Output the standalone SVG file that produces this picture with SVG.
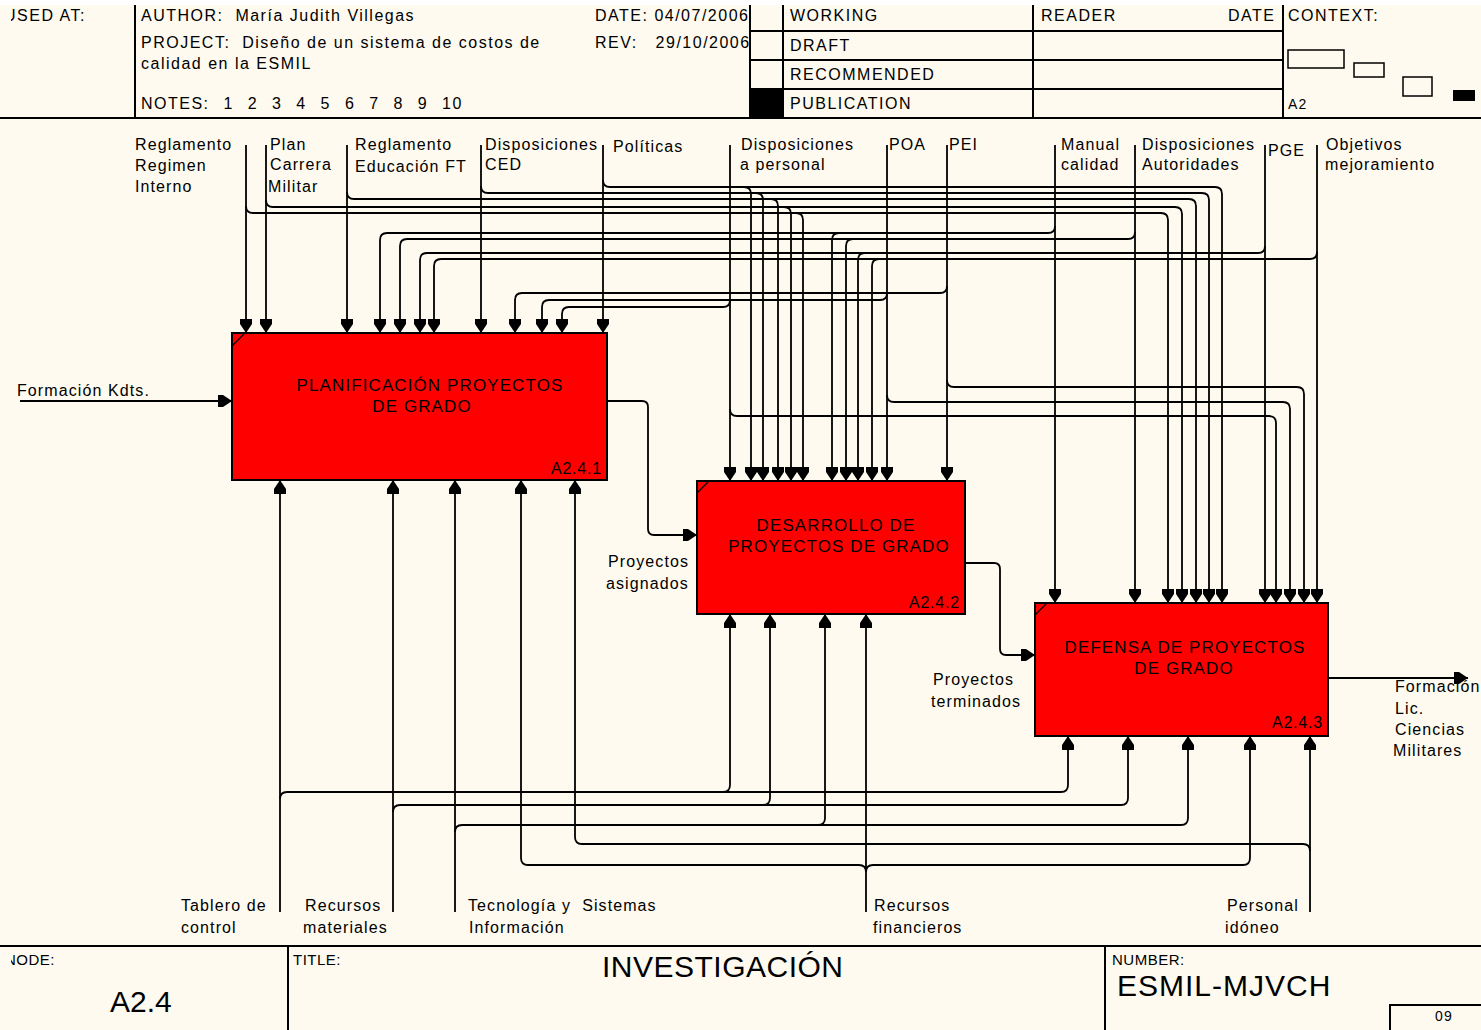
<svg xmlns="http://www.w3.org/2000/svg" width="1481" height="1030" viewBox="0 0 1481 1030">
<style>
.t{font-family:"Liberation Sans",Arial,sans-serif;font-size:16px;letter-spacing:1.1px;fill:#000}
.h{font-family:"Liberation Sans",Arial,sans-serif;font-size:16px;letter-spacing:1.5px;fill:#000}
.bt{font-family:"Liberation Sans",Arial,sans-serif;font-size:17px;letter-spacing:1.1px;fill:#000;text-anchor:middle}
.bn{font-family:"Liberation Sans",Arial,sans-serif;font-size:16px;letter-spacing:0.8px;fill:#000;text-anchor:end}
.big{font-family:"Liberation Sans",Arial,sans-serif;font-size:30px;fill:#000}
.fr{stroke:#000;stroke-width:2;fill:none}
.box{fill:#ff0000;stroke:#000;stroke-width:2}
.c{fill:none;stroke:#000;stroke-width:1.8}
.a{marker-end:url(#ah)}
</style>
<defs>
<marker id="ah" viewBox="0 0 14 12" refX="14" refY="6" markerWidth="14" markerHeight="12" orient="auto" markerUnits="userSpaceOnUse"><path d="M0,0 L5,0 L14,6 L5,12 L0,12 z" fill="#000"/></marker>
<clipPath id="lc"><rect x="11" y="0" width="1470" height="1030"/></clipPath>
</defs>
<rect x="0" y="0" width="1481" height="1030" fill="#fefaef"/>
<rect x="0" y="0" width="1481" height="5" fill="#ffffff"/>
<g id="frame">
<line class="fr" x1="0" y1="118" x2="1481" y2="118"/>
<line class="fr" x1="135" y1="5" x2="135" y2="118"/>
<line class="fr" x1="750" y1="5" x2="750" y2="118"/>
<line class="fr" x1="783" y1="5" x2="783" y2="118"/>
<line class="fr" x1="1033" y1="5" x2="1033" y2="118"/>
<line class="fr" x1="1283" y1="5" x2="1283" y2="118"/>
<line class="fr" x1="750" y1="31" x2="1283" y2="31"/>
<line class="fr" x1="750" y1="60" x2="1283" y2="60"/>
<line class="fr" x1="750" y1="89" x2="1283" y2="89"/>
<rect x="750" y="89" width="33" height="29" fill="#000"/>
<text class="h" x="4" y="21" clip-path="url(#lc)">USED AT:</text>
<text class="h" x="141" y="21" xml:space="preserve">AUTHOR:  María Judith Villegas</text>
<text class="h" x="595" y="21">DATE: 04/07/2006</text>
<text class="h" x="141" y="48" xml:space="preserve">PROJECT:  Diseño de un sistema de costos de</text>
<text class="h" x="141" y="69">calidad en la ESMIL</text>
<text class="h" x="595" y="48" xml:space="preserve">REV:   29/10/2006</text>
<text class="h" x="141" y="109" xml:space="preserve" style="word-spacing:1px">NOTES:  1  2  3  4  5  6  7  8  9  10</text>
<text class="h" x="790" y="21">WORKING</text>
<text class="h" x="790" y="51">DRAFT</text>
<text class="h" x="790" y="80">RECOMMENDED</text>
<text class="h" x="790" y="109">PUBLICATION</text>
<text class="h" x="1041" y="21">READER</text>
<text class="h" x="1228" y="21">DATE</text>
<text class="h" x="1288" y="21">CONTEXT:</text>
<text class="t" x="1288" y="109" style="font-size:14px">A2</text>
<rect x="1288" y="50" width="56" height="18" fill="none" stroke="#000" stroke-width="1.5"/>
<rect x="1354" y="63" width="30" height="14" fill="none" stroke="#000" stroke-width="1.5"/>
<rect x="1403" y="77" width="29" height="19" fill="none" stroke="#000" stroke-width="1.5"/>
<rect x="1453" y="90" width="22" height="11" fill="#000"/>
<line class="fr" x1="0" y1="946" x2="1481" y2="946"/>
<line class="fr" x1="288" y1="946" x2="288" y2="1030"/>
<line class="fr" x1="1105" y1="946" x2="1105" y2="1030"/>
<polyline class="fr" points="1390,1030 1390,1005 1481,1005"/>
<text class="t" x="5" y="965" clip-path="url(#lc)" style="font-size:15px;letter-spacing:0.5px">NODE:</text>
<text class="big" x="110" y="1012">A2.4</text>
<text class="t" x="293" y="965" style="font-size:15px;letter-spacing:0.5px">TITLE:</text>
<text class="big" x="602" y="977" style="letter-spacing:0.5px">INVESTIGACIÓN</text>
<text class="t" x="1112" y="965" style="font-size:15px;letter-spacing:0.5px">NUMBER:</text>
<text class="big" x="1117" y="996" style="letter-spacing:1px">ESMIL-MJVCH</text>
<text class="t" x="1435" y="1021" style="font-size:14px">09</text>
</g>
<g id="node-a241">
<rect class="box" x="232" y="333" width="375" height="147"/>
<line x1="232" y1="346" x2="245" y2="333" stroke="#000" stroke-width="1.2"/>
<text class="bt" x="430" y="391">PLANIFICACIÓN PROYECTOS</text>
<text class="bt" x="422" y="412">DE GRADO</text>
<text class="bn" x="602" y="474">A2.4.1</text>
</g>
<g id="node-a242">
<rect class="box" x="697" y="481" width="268" height="133"/>
<line x1="697" y1="493" x2="709" y2="481" stroke="#000" stroke-width="1.2"/>
<text class="bt" x="836" y="531">DESARROLLO DE</text>
<text class="bt" x="839" y="552">PROYECTOS DE GRADO</text>
<text class="bn" x="960" y="608">A2.4.2</text>
</g>
<g id="node-a243">
<rect class="box" x="1035" y="603" width="293" height="133"/>
<line x1="1035" y1="615" x2="1047" y2="603" stroke="#000" stroke-width="1.2"/>
<text class="bt" x="1185" y="653">DEFENSA DE PROYECTOS</text>
<text class="bt" x="1184" y="674">DE GRADO</text>
<text class="bn" x="1323" y="728">A2.4.3</text>
</g>
<g id="connectors">
<path class="c a" d="M246,145 V333"/>
<path class="c a" d="M266,145 V333"/>
<path class="c a" d="M347,145 V333"/>
<path class="c a" d="M481,145 V333"/>
<path class="c a" d="M603,145 V333"/>
<path class="c a" d="M730,145 V481"/>
<path class="c a" d="M887,145 V481"/>
<path class="c a" d="M947,145 V481"/>
<path class="c a" d="M1055,145 V603"/>
<path class="c a" d="M1135,145 V603"/>
<path class="c a" d="M1265,145 V603"/>
<path class="c a" d="M1317,145 V603"/>
<path class="c a" d="M246,206 Q246,213 253,213 H1161 Q1168,213 1168,220 V603"/>
<path class="c a" d="M796,213 Q803,213 803,220 V481"/>
<path class="c a" d="M266,200 Q266,207 273,207 H1175 Q1182,207 1182,214 V603"/>
<path class="c a" d="M784,207 Q791,207 791,214 V481"/>
<path class="c a" d="M347,192 Q347,199 354,199 H1189 Q1196,199 1196,206 V603"/>
<path class="c a" d="M771,199 Q778,199 778,206 V481"/>
<path class="c a" d="M481,186 Q481,193 488,193 H1202 Q1209,193 1209,200 V603"/>
<path class="c a" d="M756,193 Q763,193 763,200 V481"/>
<path class="c a" d="M603,180 Q603,187 610,187 H1215 Q1222,187 1222,194 V603"/>
<path class="c a" d="M744,187 Q751,187 751,194 V481"/>
<path class="c a" d="M1055,226 Q1055,233 1048,233 H387 Q380,233 380,240 V333"/>
<path class="c a" d="M839,233 Q832,233 832,240 V481"/>
<path class="c a" d="M1135,232 Q1135,239 1128,239 H407 Q400,239 400,246 V333"/>
<path class="c a" d="M853,239 Q846,239 846,246 V481"/>
<path class="c a" d="M1265,246 Q1265,253 1258,253 H427 Q420,253 420,260 V333"/>
<path class="c a" d="M865,253 Q858,253 858,260 V481"/>
<path class="c a" d="M1317,252 Q1317,259 1310,259 H441 Q434,259 434,266 V333"/>
<path class="c a" d="M879,259 Q872,259 872,266 V481"/>
<path class="c a" d="M947,286 Q947,293 940,293 H522 Q515,293 515,300 V333"/>
<path class="c a" d="M887,293 Q887,300 880,300 H549 Q542,300 542,307 V333"/>
<path class="c a" d="M730,300 Q730,307 723,307 H569 Q562,307 562,314 V333"/>
<path class="c a" d="M947,380 Q947,387 954,387 H1297 Q1304,387 1304,394 V603"/>
<path class="c a" d="M887,395 Q887,402 894,402 H1283 Q1290,402 1290,409 V603"/>
<path class="c a" d="M730,409 Q730,416 737,416 H1269 Q1276,416 1276,423 V603"/>
<path class="c a" d="M280,912 V480"/>
<path class="c a" d="M280,799 Q280,792 287,792 H1061 Q1068,792 1068,785 V736"/>
<path class="c a" d="M723,792 Q730,792 730,785 V614"/>
<path class="c a" d="M393,912 V480"/>
<path class="c a" d="M393,812 Q393,805 400,805 H1121 Q1128,805 1128,798 V736"/>
<path class="c a" d="M763,805 Q770,805 770,798 V614"/>
<path class="c a" d="M455,912 V480"/>
<path class="c a" d="M455,832 Q455,825 462,825 H1181 Q1188,825 1188,818 V736"/>
<path class="c a" d="M818,825 Q825,825 825,818 V614"/>
<path class="c a" d="M866,912 V614"/>
<path class="c a" d="M866,872 Q866,865 859,865 H528 Q521,865 521,858 V480"/>
<path class="c a" d="M866,872 Q866,865 873,865 H1243 Q1250,865 1250,858 V736"/>
<path class="c a" d="M1310,912 V736"/>
<path class="c a" d="M1310,851 Q1310,844 1303,844 H582 Q575,844 575,837 V480"/>
<path class="c a" d="M20,401 H232"/>
<path class="c a" d="M607,401 H642 Q648,401 648,407 V529 Q648,535 654,535 H697"/>
<path class="c a" d="M965,563 H994 Q1000,563 1000,569 V649 Q1000,655 1006,655 H1035"/>
<path class="c a" d="M1328,678 H1468"/>
</g>
<g id="labels">
<text class="t" x="135" y="150">Reglamento</text>
<text class="t" x="135" y="171">Regimen</text>
<text class="t" x="135" y="192">Interno</text>
<text class="t" x="270" y="150">Plan</text>
<text class="t" x="270" y="170">Carrera</text>
<text class="t" x="268" y="192">Militar</text>
<text class="t" x="355" y="150">Reglamento</text>
<text class="t" x="355" y="172">Educación FT</text>
<text class="t" x="485" y="150">Disposiciones</text>
<text class="t" x="485" y="170">CED</text>
<text class="t" x="613" y="152">Políticas</text>
<text class="t" x="741" y="150">Disposiciones</text>
<text class="t" x="740" y="170">a personal</text>
<text class="t" x="889" y="150">POA</text>
<text class="t" x="949" y="150">PEI</text>
<text class="t" x="1061" y="150">Manual</text>
<text class="t" x="1061" y="170">calidad</text>
<text class="t" x="1142" y="150">Disposiciones</text>
<text class="t" x="1142" y="170">Autoridades</text>
<text class="t" x="1268" y="156">PGE</text>
<text class="t" x="1326" y="150">Objetivos</text>
<text class="t" x="1325" y="170">mejoramiento</text>
<text class="t" x="17" y="396">Formación Kdts.</text>
<text class="t" x="608" y="567">Proyectos</text>
<text class="t" x="606" y="589">asignados</text>
<text class="t" x="933" y="685">Proyectos</text>
<text class="t" x="931" y="707">terminados</text>
<text class="t" x="1395" y="692">Formación</text>
<text class="t" x="1395" y="714">Lic.</text>
<text class="t" x="1395" y="735">Ciencias</text>
<text class="t" x="1393" y="756">Militares</text>
<text class="t" x="181" y="911">Tablero de</text>
<text class="t" x="181" y="933">control</text>
<text class="t" x="305" y="911">Recursos</text>
<text class="t" x="303" y="933">materiales</text>
<text class="t" x="468" y="911" xml:space="preserve">Tecnología y  Sistemas</text>
<text class="t" x="469" y="933">Información</text>
<text class="t" x="874" y="911">Recursos</text>
<text class="t" x="873" y="933">financieros</text>
<text class="t" x="1227" y="911">Personal</text>
<text class="t" x="1225" y="933">idóneo</text>
</g>
</svg>
